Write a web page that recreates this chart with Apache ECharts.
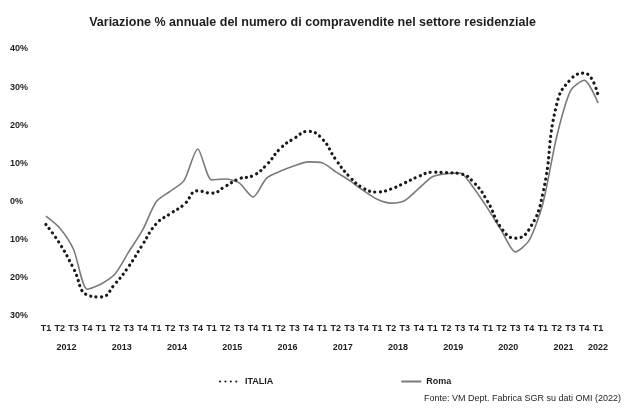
<!DOCTYPE html>
<html>
<head>
<meta charset="utf-8">
<script src="https://cdn.jsdelivr.net/npm/echarts@6/dist/echarts.min.js"></script>
<style>
  html, body { margin: 0; padding: 0; background: #fff; }
  #chart { width: 625px; height: 410px; }
</style>
</head>
<body>
<div id="chart"></div>
<script>
// Quarterly categories, T1 2012 .. T1 2022
const quarters = [
  'T1','T2','T3','T4', 'T1','T2','T3','T4', 'T1','T2','T3','T4',
  'T1','T2','T3','T4', 'T1','T2','T3','T4', 'T1','T2','T3','T4',
  'T1','T2','T3','T4', 'T1','T2','T3','T4', 'T1','T2','T3','T4',
  'T1','T2','T3','T4', 'T1'
];
// Year captions and the quarter index they are centred on
const years = ['2012','2013','2014','2015','2016','2017','2018','2019','2020','2021','2022'];
const yearCenters = [1.5, 5.5, 9.5, 13.5, 17.5, 21.5, 25.5, 29.5, 33.5, 37.5, 40];

// Annual % change in residential sales
const italia = [
  -6, -11, -17.5, -24.5, -25, -21.6, -17, -11.3,
  -5.8, -3.2, -0.8, 2.8, 2.2, 4, 6, 6.8,
  9.7, 14, 16.6, 18.4, 16.5, 11, 6.5, 3.5,
  2.5, 3.3, 4.9, 6.6, 7.7, 7.6, 7.3, 5,
  0, -7, -9.6, -7.3, 2.2, 25.5, 32, 33.7, 27.8
];
const roma = [
  -3.8, -6.9, -12.5, -23, -21.6, -19, -13.2, -7.5,
  0, 2.7, 5.5, 13.8, 5.7, 5.9, 4.9, 1.2,
  6.2, 8, 9.4, 10.4, 10.2, 7.8, 5.5, 2.9,
  0.6, -0.4, 0.3, 3.4, 6.5, 7.3, 7.5, 3.5,
  -1.8, -7.6, -13.2, -10.2, -0.5, 17, 29, 31.8, 25.8
];

const yTicks = [-30, -20, -10, 0, 10, 20, 30, 40];

const FONT = "'Liberation Sans Narrow', 'Liberation Sans', sans-serif";
const TXT = '#1e1e1e';

const chart = echarts.init(document.getElementById('chart'), null, { renderer: 'canvas' });

chart.setOption({
  animation: false,
  backgroundColor: '#fff',
  title: {
    text: 'Variazione % annuale del numero di compravendite nel settore residenziale',
    left: 'center',
    top: 11,
    textStyle: { fontFamily: FONT, fontSize: 12.5, fontWeight: 'bold', color: TXT }
  },
  grid: { left: 39, right: 20, top: 49, bottom: 94, containLabel: false },
  legend: {
    left: 214,
    top: 372,
    itemGap: 127,
    itemWidth: 20,
    itemHeight: 10,
    itemStyle: { opacity: 0 },
    textStyle: { fontFamily: FONT, fontSize: 9, fontWeight: 'bold', color: TXT },
    data: ['ITALIA', 'Roma']
  },
  xAxis: {
    type: 'category',
    data: quarters,
    boundaryGap: true,
    axisLine: { show: false },
    axisTick: { show: false },
    splitLine: { show: false },
    axisLabel: {
      interval: 0,
      margin: 8,
      fontFamily: FONT,
      fontSize: 9,
      fontWeight: 'bold',
      color: TXT
    }
  },
  yAxis: {
    type: 'value',
    min: yTicks[0],
    max: yTicks[yTicks.length - 1],
    interval: 10,
    axisLine: { show: false },
    axisTick: { show: false },
    splitLine: { show: false },
    axisLabel: {
      align: 'left',
      margin: 29,
      fontFamily: FONT,
      fontSize: 9,
      fontWeight: 'bold',
      color: TXT,
      formatter: v => Math.abs(v) + '%'
    }
  },
  series: [
    {
      name: 'ITALIA',
      type: 'line',
      data: italia,
      smooth: 0.5,
      symbol: 'none',
      color: '#1a1a1a',
      lineStyle: { color: '#1a1a1a', width: 3.2, type: [0.1, 5.3], cap: 'round' },
      z: 3
    },
    {
      name: 'Roma',
      type: 'line',
      data: roma,
      smooth: 0.25,
      symbol: 'none',
      color: '#7a7a7a',
      lineStyle: { color: '#7a7a7a', width: 1.6 },
      z: 2
    }
  ]
});

// convertToPixel on a category axis takes the category index; interpolate for half steps
function catPixel(v) {
  const i0 = Math.floor(v), f = v - i0;
  const p0 = chart.convertToPixel({ xAxisIndex: 0 }, i0);
  if (f === 0) return p0;
  const p1 = chart.convertToPixel({ xAxisIndex: 0 }, i0 + 1);
  return p0 + (p1 - p0) * f;
}

// Year captions beneath the quarter labels, plus the source note
const graphics = years.map((y, k) => ({
  type: 'text',
  x: catPixel(yearCenters[k]),
  y: 348,
  style: {
    text: y,
    fontFamily: FONT,
    fontSize: 9,
    fontWeight: 'bold',
    fill: TXT,
    align: 'center',
    verticalAlign: 'middle'
  }
}));
graphics.push({
  type: 'text',
  right: 4,
  top: 394,
  style: {
    text: 'Fonte: VM Dept. Fabrica SGR su dati OMI (2022)',
    fontFamily: FONT,
    fontSize: 9,
    fill: TXT
  }
});
chart.setOption({ graphic: graphics });
</script>
</body>
</html>
